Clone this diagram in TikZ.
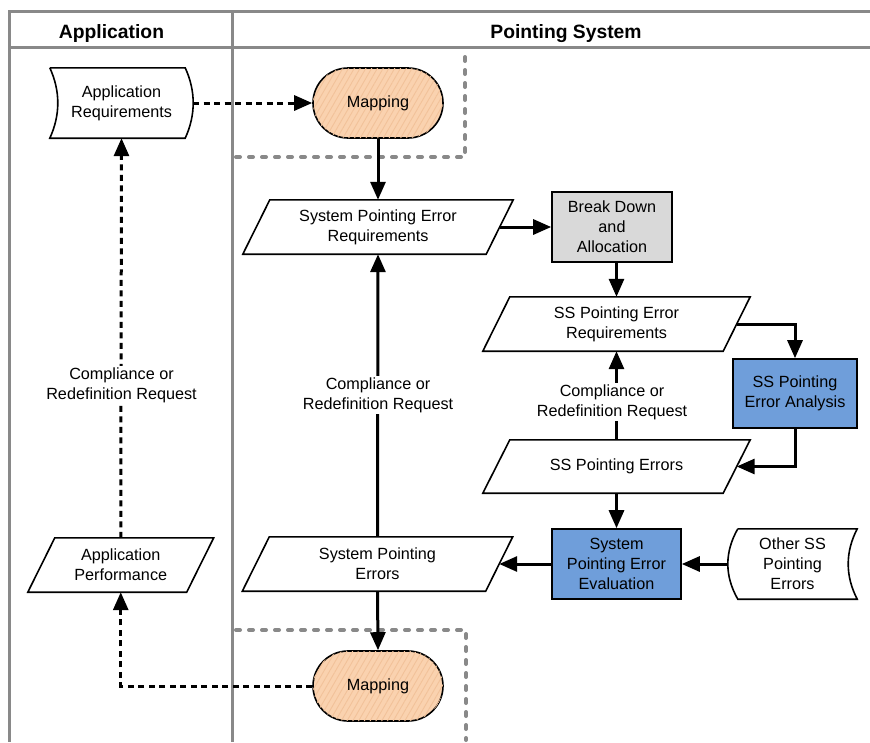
\documentclass[tikz,border=0pt]{standalone}
\usepackage{fontspec}
\setmainfont{Liberation Sans}
\usetikzlibrary{arrows.meta,patterns.meta}

\definecolor{framegray}{RGB}{137,137,137}
\definecolor{peach}{RGB}{250,210,175}
\definecolor{peachline}{RGB}{242,194,154}
\definecolor{blueproc}{RGB}{111,158,218}
\definecolor{grayproc}{RGB}{217,217,217}

\newcommand\paradraw[2]{\draw[shapeline] ([xshift=#2]#1.north west) -- ([xshift=#2]#1.north east) -- ([xshift=-#2]#1.south east) -- ([xshift=-#2]#1.south west) -- cycle;}

\begin{document}
\begin{tikzpicture}[x=1pt,y=-1pt,
  txt/.style={font=\fontsize{16.2}{19.8}\selectfont, align=center, inner sep=0pt},
  title/.style={font=\bfseries\fontsize{19.3}{23}\selectfont, inner sep=0pt, anchor=base},
  shapeline/.style={line width=1.6pt, line join=miter},
  procbox/.style={txt, draw, line width=1.6pt, minimum width=#1, minimum height=70pt},
  mapstyle/.style={txt, draw, line width=1.6pt, rounded corners=35pt, minimum width=130pt, minimum height=70pt, fill=peach,
     postaction={pattern={Lines[angle=60,distance=5pt,line width=0.9pt]}, pattern color=peachline}},
  para/.style={txt, minimum width=#1, minimum height=54pt},
  conn/.style={line width=3pt, -{Triangle[length=18pt,width=15pt]}},
  dconn/.style={conn, dash pattern=on 6pt off 4.5pt},
  framel/.style={framegray, line width=3pt},
  gdash/.style={framegray, line width=4pt, line cap=round, dash pattern=on 4pt off 9pt},
  lbl/.style={txt, fill=white, inner sep=2pt}
]
\useasboundingbox (0,0) rectangle (870,742);

% frame
\draw[framel] (8,11) -- (870,11);
\draw[framel] (9,10) -- (9,742);
\draw[framel] (9,47) -- (870,47);
\draw[framel] (232,10) -- (232,742);
\node[title] (tapp) at (111.5,38) {Application};
\node[title] (tps) at (566,38) {Pointing System};

% gray dashed boundaries
\draw[gdash] (236,157) -- (465,157) -- (465,52);
\draw[gdash] (236,630) -- (466,630) -- (466,740);

% nodes
\node[txt, minimum width=143pt, minimum height=70pt] (appreq) at (121.5,103) {Application\\Requirements};
\draw[shapeline] (appreq.north west) -- ([xshift=-8pt]appreq.north east)
  .. controls +(10.67,23.3) and +(10.67,-23.3) .. ([xshift=-8pt]appreq.south east)
  -- (appreq.south west)
  .. controls +(10.67,-23.3) and +(10.67,23.3) .. (appreq.north west);

\node[mapstyle] (map1) at (378,103) {Mapping};
\node[mapstyle] (map2) at (378,686) {Mapping};

\node[para=243pt] (sper) at (378,227) {System Pointing Error\\Requirements};
\paradraw{sper}{13.5pt}

\node[procbox=120pt, fill=grayproc] (bda) at (612,227) {Break Down\\and\\Allocation};

\node[para=240pt] (ssper) at (616.5,324) {SS Pointing Error\\Requirements};
\paradraw{ssper}{13.5pt}

\node[procbox=124pt, minimum height=69pt, fill=blueproc] (ssea) at (795,393.5) {SS Pointing\\Error Analysis};

\node[para=240pt, minimum height=53pt] (sspe) at (616.5,466.5) {SS Pointing Errors};
\paradraw{sspe}{13.5pt}

\node[procbox=129pt, fill=blueproc] (spee) at (616.5,564) {System\\Pointing Error\\Evaluation};

\node[txt, minimum width=129pt, minimum height=70pt] (other) at (792.5,564) {Other SS\\Pointing\\Errors};
\draw[shapeline] ([xshift=10pt]other.north west) -- (other.north east)
  .. controls +(-12,23.3) and +(-12,-23.3) .. (other.south east)
  -- ([xshift=10pt]other.south west)
  .. controls +(-13.3,-23.3) and +(-13.3,23.3) .. ([xshift=10pt]other.north west);

\node[para=243pt] (spe) at (377.5,564) {System Pointing\\Errors};
\paradraw{spe}{13.5pt}

\node[para=158.5pt] (appperf) at (120.75,565) {Application\\Performance};
\paradraw{appperf}{13.5pt}

% connectors
\draw[dconn] (appreq.east) -- (map1.west);
\draw[conn] (map1.south) -- (sper.north);
\draw[conn] (sper.east) -- (bda.west);
\draw[conn] (bda.south -| ssper.north) -- (ssper.north);
\draw[conn] (ssper.east) -| (ssea.north);
\draw[conn] (ssea.south) |- (sspe.east);
\draw[conn] (sspe.north) -- (ssper.south);
\node[lbl] (l2) at (612,402) {Compliance or\\Redefinition Request};
\draw[conn] (sspe.south) -- (spee.north);
\draw[conn] (other.west) -- (spee.east);
\draw[conn] (spee.west) -- (spe.east);
\draw[conn] (spe.north) -- (sper.south);
\node[lbl] (l1) at (378,395) {Compliance or\\Redefinition Request};
\draw[conn] (spe.south) -- (map2.north);
\draw[dconn] (map2.west) -| (appperf.south);
\draw[dconn] (appperf.north) -- (appreq.south);
\node[lbl] (l0) at (121.5,385.5) {Compliance or\\Redefinition Request};
\end{tikzpicture}
\end{document}
